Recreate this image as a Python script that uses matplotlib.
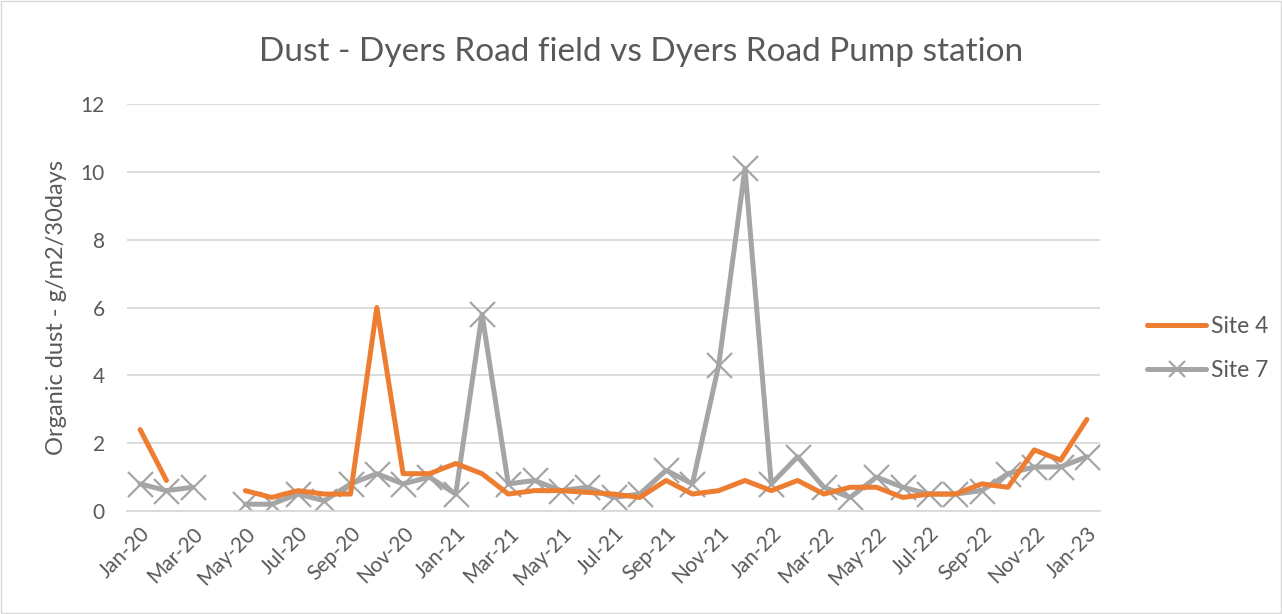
import numpy as np
import matplotlib
matplotlib.use("Agg")
import matplotlib.pyplot as plt

months = ["Jan-20", "Feb-20", "Mar-20", "Apr-20", "May-20", "Jun-20", "Jul-20", "Aug-20",
          "Sep-20", "Oct-20", "Nov-20", "Dec-20", "Jan-21", "Feb-21", "Mar-21", "Apr-21",
          "May-21", "Jun-21", "Jul-21", "Aug-21", "Sep-21", "Oct-21", "Nov-21", "Dec-21",
          "Jan-22", "Feb-22", "Mar-22", "Apr-22", "May-22", "Jun-22", "Jul-22", "Aug-22",
          "Sep-22", "Oct-22", "Nov-22", "Dec-22", "Jan-23"]

nan = np.nan
site4 = [2.4, 0.9, nan, nan, 0.6, 0.4, 0.6, 0.5, 0.5, 6.0, 1.1, 1.1, 1.4, 1.1, 0.5, 0.6,
         0.6, 0.55, 0.5, 0.4, 0.9, 0.5, 0.6, 0.9, 0.6, 0.9, 0.5, 0.7, 0.7, 0.4, 0.5, 0.5,
         0.8, 0.7, 1.8, 1.5, 2.7]
site7 = [0.8, 0.6, 0.7, nan, 0.2, 0.2, 0.5, 0.3, 0.8, 1.1, 0.8, 1.0, 0.5, 5.8, 0.8, 0.9,
         0.6, 0.7, 0.4, 0.5, 1.2, 0.8, 4.3, 10.1, 0.8, 1.6, 0.7, 0.4, 1.0, 0.7, 0.5, 0.5,
         0.6, 1.1, 1.3, 1.3, 1.6]

plt.rcParams['font.family'] = ['Lato', 'DejaVu Sans']
txt = "#595959"

fig = plt.figure(figsize=(12.82, 6.14), dpi=100)
ax = fig.add_axes([127 / 1282, 1 - 511 / 614, (1100 - 127) / 1282, (511 - 104) / 614])

x = np.arange(len(months))
ax.plot(x, site4, color="#ED7D31", lw=3.6, solid_capstyle="round", solid_joinstyle="round",
        label="Site 4", zorder=3)
ax.plot(x, site7, color="#A5A5A5", lw=3.6, marker="x", markersize=18, markeredgewidth=1.6,
        solid_capstyle="round", solid_joinstyle="round", label="Site 7", zorder=2)

ax.set_xlim(-0.5, len(months) - 0.5)
ax.set_ylim(0, 12)
ax.set_yticks(range(0, 13, 2))
ax.set_xticks(x[::2])
ax.set_xticklabels(months[::2], rotation=45, ha="right", rotation_mode="anchor")
ax.tick_params(axis="both", length=0, labelsize=15, colors=txt)
ax.tick_params(axis="x", pad=9)
ax.tick_params(axis="y", pad=16)
ax.grid(axis="y", color="#D9D9D9", lw=1.3)
ax.set_axisbelow(True)
for s in ["top", "right", "left"]:
    ax.spines[s].set_visible(False)
ax.spines["bottom"].set_color("#D9D9D9")
ax.spines["bottom"].set_linewidth(1.3)

ax.set_ylabel("Organic dust - g/m2/30days", fontsize=17, color=txt, labelpad=10)
fig.text(0.5, 1 - 52 / 614, "Dust - Dyers Road field vs Dyers Road Pump station",
         ha="center", va="center", fontsize=24, color=txt)

leg = ax.legend(loc="center left", bbox_to_anchor=(1.027, 0.40), frameon=False,
                fontsize=16.5, labelcolor=txt, handlelength=2.6, labelspacing=1.0,
                handletextpad=0.2)
for h in leg.legend_handles:
    h.set_markersize(11)

fig.patches.append(plt.Rectangle((0.001, 0.001), 0.998, 0.997, transform=fig.transFigure,
                                 fill=False, edgecolor="#D9D9D9", lw=1))

fig.savefig("out.png", dpi=100)
